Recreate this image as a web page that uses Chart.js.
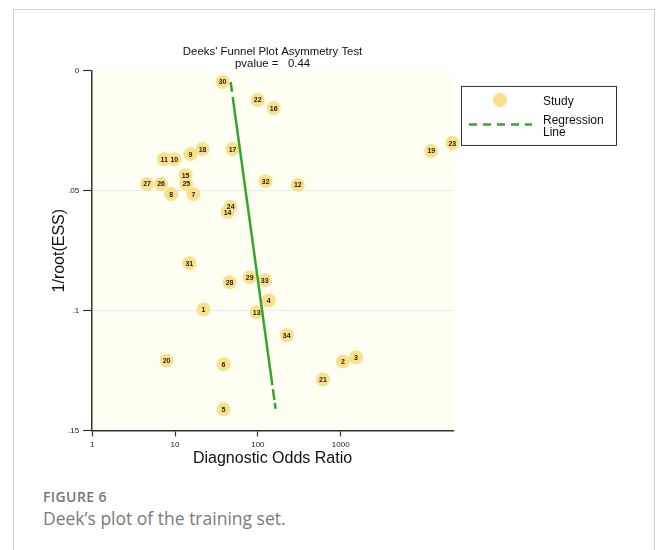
<!DOCTYPE html>
<html>
<head>
<meta charset="utf-8">
<script src="https://cdn.jsdelivr.net/npm/chart.js@4.4.1/dist/chart.umd.min.js"></script>
<style>
  html, body { margin: 0; padding: 0; background: #fff; }
  body { width: 656px; height: 550px; position: relative; overflow: hidden; }
  .frame { position: absolute; left: 13px; top: 9px; width: 640px; height: 620px; border: 1px solid #d0d0d0; }
  #wrap { position: absolute; left: 0; top: 0; width: 656px; height: 470px; }
  .fig { position: absolute; left: 43px; top: 487px; font: 600 14px "Open Sans", sans-serif; color: #777; letter-spacing: 0.4px; }
  .cap { position: absolute; left: 43px; top: 509.5px; font: 17.5px/1 "Open Sans", sans-serif; color: #7a7a7a; }
</style>
</head>
<body>
<div class="frame"></div>
<div id="wrap"><canvas id="c"></canvas></div>
<div class="fig">FIGURE 6</div>
<div class="cap">Deek’s plot of the training set.</div>
<script>
// Study identifiers, diagnostic odds ratios and 1/sqrt(effective sample size)
const studyIds = [1, 2, 3, 4, 5, 6, 7, 8, 9, 10, 11, 12, 13, 14, 15, 16, 17,
                  18, 19, 20, 21, 22, 23, 24, 25, 26, 27, 28, 29, 30, 31, 32, 33, 34];
const diagnosticOddsRatio = [22.1, 1063, 1528, 135, 38.5, 38.5, 16.7, 9.0, 15.4, 9.8, 7.4, 303, 96.7, 43.1, 13.4, 155, 49.5,
                             21.5, 12360, 7.9, 609, 99.5, 22200, 46.9, 13.7, 6.8, 4.6, 45.6, 79.6, 37.5, 14.9, 124, 121, 223];
const invRootESS = [0.0995, 0.1212, 0.1195, 0.0957, 0.1412, 0.1224, 0.0514, 0.0514, 0.0347, 0.0368, 0.0368, 0.0476, 0.1007, 0.0589, 0.0435, 0.0155, 0.0326,
                    0.0326, 0.0334, 0.1208, 0.1287, 0.0121, 0.0301, 0.0568, 0.0472, 0.0472, 0.0472, 0.0882, 0.0861, 0.0046, 0.0802, 0.0460, 0.0873, 0.1103];

// Fitted regression line, at the smallest and largest 1/root(ESS)
const regressionDOR = [46.9, 164];
const regressionY = [0.0046, 0.1412];

// Axis ticks
const xTickValues = [1, 10, 100, 1000];
const xTickLabels = ['1', '10', '100', '1000'];
const yTickValues = [0, 0.05, 0.1, 0.15];
const yTickLabels = ['0', '.05', '.1', '.15'];

const titleLines = ["Deeks' Funnel Plot Asymmetry Test", 'pvalue =   0.44'];

const studyPoints = studyIds.map((id, i) => ({ x: diagnosticOddsRatio[i], y: invRootESS[i] }));
const regressionPoints = regressionDOR.map((v, i) => ({ x: v, y: regressionY[i] }));

const FONT = '"Liberation Sans", Arial, Helvetica, sans-serif';
const STUDY_COLOR = '#F9E08A';
const LINE_COLOR = '#34A62C';

// Ivory plotting region
const plotBackground = {
  id: 'plotBackground',
  beforeDraw(chart) {
    const { ctx, chartArea: a } = chart;
    ctx.save();
    ctx.fillStyle = '#FFFEF2';
    ctx.fillRect(a.left, a.top, a.right - a.left, a.bottom - a.top);
    ctx.restore();
  }
};

// Study numbers written inside each marker
const studyNumbers = {
  id: 'studyNumbers',
  afterDatasetDraw(chart, args) {
    if (args.index !== 0) return;
    const { ctx } = chart;
    ctx.save();
    ctx.font = 'bold 7px ' + FONT;
    ctx.fillStyle = '#222';
    ctx.textAlign = 'center';
    ctx.textBaseline = 'middle';
    args.meta.data.forEach((pt, i) => {
      ctx.fillText(String(studyIds[i]), pt.x, pt.y + 0.5);
    });
    ctx.restore();
  }
};

// Boxed key to the right of the plot
const keyBox = {
  id: 'keyBox',
  afterDraw(chart) {
    const { ctx, chartArea: a } = chart;
    const ds = chart.data.datasets;
    const left = a.right + 8, top = a.top + 15, w = 155, h = 59;
    ctx.save();
    ctx.fillStyle = '#fff';
    ctx.fillRect(left, top, w, h);
    ctx.strokeStyle = '#333';
    ctx.lineWidth = 1;
    ctx.strokeRect(left + 0.5, top + 0.5, w, h);

    ctx.fillStyle = ds[0].backgroundColor;
    ctx.beginPath();
    ctx.arc(left + 39, top + 14, 7, 0, Math.PI * 2);
    ctx.fill();

    ctx.strokeStyle = ds[1].borderColor;
    ctx.lineWidth = ds[1].borderWidth;
    ctx.setLineDash([8, 6]);
    ctx.beginPath();
    ctx.moveTo(left + 8, top + 38.5);
    ctx.lineTo(left + 71, top + 38.5);
    ctx.stroke();
    ctx.setLineDash([]);

    ctx.fillStyle = '#111';
    ctx.font = '12px ' + FONT;
    ctx.textAlign = 'left';
    ctx.textBaseline = 'alphabetic';
    ctx.fillText(ds[0].label, left + 82, top + 19);
    const parts = ds[1].label.split(' ');
    ctx.fillText(parts[0], left + 82, top + 38);
    ctx.fillText(parts[1], left + 82, top + 50);
    ctx.restore();
  }
};

new Chart(document.getElementById('c'), {
  type: 'scatter',
  data: {
    datasets: [
      {
        label: 'Study',
        data: studyPoints,
        backgroundColor: STUDY_COLOR,
        borderWidth: 0,
        pointRadius: 7,
        pointHoverRadius: 7,
        clip: false,
        order: 1
      },
      {
        label: 'Regression Line',
        data: regressionPoints,
        showLine: true,
        borderColor: LINE_COLOR,
        borderWidth: 2.5,
        borderCapStyle: 'butt',
        borderDash: [10, 5, 291, 4, 11, 3, 6, 20],
        pointRadius: 0,
        clip: false,
        order: 0
      }
    ]
  },
  options: {
    responsive: true,
    maintainAspectRatio: false,
    animation: false,
    events: [],
    layout: { padding: { left: 52, right: 203, top: 44, bottom: 3 } },
    plugins: {
      legend: { display: false },
      tooltip: { enabled: false },
      title: {
        display: true,
        fullSize: false,
        text: titleLines,
        color: '#111',
        font: { family: FONT, size: 11.4, weight: 'normal', lineHeight: 1.05 },
        padding: { top: 2, bottom: 1 }
      }
    },
    scales: {
      x: {
        type: 'logarithmic',
        min: 1,
        max: 22600,
        afterBuildTicks(scale) { scale.ticks = xTickValues.map(v => ({ value: v })); },
        ticks: {
          autoSkip: false,
          maxRotation: 0,
          padding: 4,
          color: '#222',
          font: { family: FONT, size: 8 },
          callback: (v) => xTickLabels[xTickValues.indexOf(v)]
        },
        grid: { drawOnChartArea: false, drawTicks: true, tickLength: 6, tickColor: '#333', tickWidth: 1.2 },
        border: { display: true, color: '#333', width: 1.5 },
        title: {
          display: true,
          text: 'Diagnostic Odds Ratio',
          color: '#111',
          font: { family: FONT, size: 16, lineHeight: 1.0 },
          padding: { top: -3, bottom: 0 }
        }
      },
      y: {
        reverse: true,
        min: 0,
        max: 0.15,
        afterBuildTicks(scale) { scale.ticks = yTickValues.map(v => ({ value: v })); },
        ticks: {
          autoSkip: false,
          padding: 4,
          color: '#222',
          font: { family: FONT, size: 8 },
          callback: (v) => yTickLabels[yTickValues.indexOf(v)]
        },
        grid: {
          drawTicks: true,
          tickLength: 9,
          tickColor: '#333',
          tickWidth: 1.2,
          lineWidth: 1,
          color: (ctx) => (ctx.tick && (ctx.tick.value === 0.05 || ctx.tick.value === 0.1)) ? '#E2EDF4' : 'rgba(0,0,0,0)'
        },
        border: { display: true, color: '#333', width: 1.5 },
        title: {
          display: true,
          text: '1/root(ESS)',
          color: '#111',
          font: { family: FONT, size: 16, lineHeight: 1.0 },
          padding: { top: 0, bottom: -4 }
        }
      }
    }
  },
  plugins: [plotBackground, studyNumbers, keyBox]
});
</script>
</body>
</html>
